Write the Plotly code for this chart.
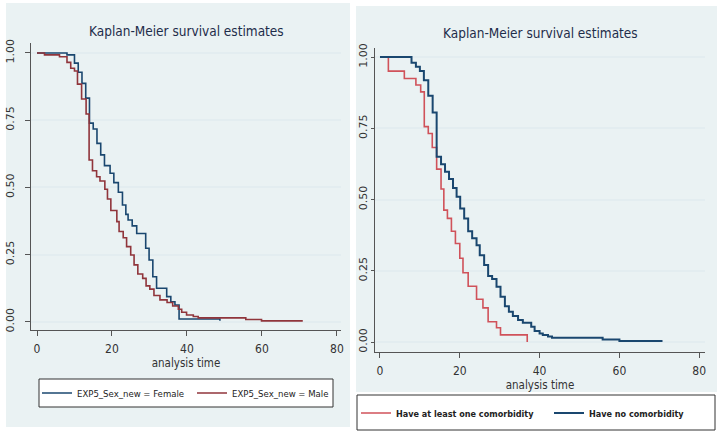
import plotly.graph_objects as go

# ---------------- data ----------------
# Left panel: by sex
female_t = [0, 8, 10, 11, 12, 13, 14, 15, 16, 17, 18, 19.5, 20.5, 21.7, 22.8, 23.7, 24.3, 25.4, 26.6,
            29.0, 29.9, 30.9, 31.9, 34.6, 35.7, 36.8, 37.9, 48.8]
female_s = [1.0, 0.993, 0.962, 0.928, 0.887, 0.832, 0.739, 0.717, 0.664, 0.621, 0.581, 0.553, 0.518,
            0.482, 0.435, 0.400, 0.379, 0.357, 0.329, 0.274, 0.230, 0.168, 0.125, 0.094, 0.075, 0.063,
            0.011, 0.004]
male_t = [0, 2, 6, 8, 9, 10, 10.8, 11.9, 13.1, 13.9, 14.8, 15.9, 16.8, 18.1, 18.8, 19.7, 21.3, 21.9,
          23.0, 23.9, 25.0, 25.9, 26.9, 28.2, 29.1, 30.1, 31.2, 32.8, 34.7, 36.2, 37.7, 38.6, 39.9,
          41.7, 43.0, 55.7, 59.9, 70.9]
male_s = [1.0, 0.993, 0.986, 0.965, 0.943, 0.933, 0.884, 0.829, 0.773, 0.602, 0.562, 0.540, 0.524,
          0.493, 0.457, 0.414, 0.373, 0.336, 0.313, 0.280, 0.249, 0.212, 0.178, 0.162, 0.134, 0.122,
          0.098, 0.082, 0.072, 0.059, 0.047, 0.036, 0.026, 0.020, 0.015, 0.009, 0.004, 0.004]

# Right panel: by comorbidity
comorb_t = [0, 2.1, 6.1, 9, 10.2, 11.1, 12.1, 13.1, 14.2, 15.3, 16.0, 16.9, 17.9, 18.9, 20.0, 20.8,
            22.1, 24.2, 25.8, 27.1, 29.2, 30.2, 36.9]
comorb_s = [1.0, 0.951, 0.925, 0.902, 0.878, 0.756, 0.732, 0.683, 0.607, 0.537, 0.463, 0.434, 0.389,
            0.346, 0.294, 0.243, 0.196, 0.150, 0.120, 0.071, 0.050, 0.025, 0.0]
nocomorb_t = [0, 7.9, 9, 10, 11, 12.1, 13.2, 14.2, 15.3, 16.3, 17.3, 18.3, 19.2, 20.1, 21.1, 22.1,
              23.1, 24.2, 25.0, 26.1, 27.1, 28.1, 29.2, 30.2, 31.3, 32.3, 33.3, 34.6, 35.8, 37.9,
              38.75, 40.0, 40.8, 42.1, 43.1, 55.8, 60.0, 70.8]
nocomorb_s = [1.0, 0.980, 0.966, 0.951, 0.919, 0.864, 0.806, 0.650, 0.624, 0.598, 0.572, 0.541, 0.510,
              0.469, 0.434, 0.389, 0.364, 0.340, 0.305, 0.270, 0.232, 0.221, 0.194, 0.159, 0.126,
              0.106, 0.091, 0.077, 0.068, 0.054, 0.039, 0.030, 0.025, 0.019, 0.015, 0.009, 0.004, 0.004]

x_ticks = [0, 20, 40, 60, 80]
y_ticks = [0, 0.25, 0.5, 0.75, 1.0]
y_ticklabels = ["0.00", "0.25", "0.50", "0.75", "1.00"]
title_text = "Kaplan-Meier survival estimates"
xaxis_title = "analysis time"

# ---------------- styling ----------------
W, H = 717, 435
NAVY = "#1a476f"
MAROON = "#90353b"
PINKRED = "#d0525a"
PANEL_BG = "#eaf2f3"
GRID = "#e3edf0"
AXIS = "#555555"
NARROW = "DejaVu Sans Condensed, Liberation Sans Narrow, Liberation Sans, sans-serif"
TICKFONT_Y = dict(family="DejaVu Sans, sans-serif", size=11, color="#333333")
TICKFONT_X = dict(family=NARROW, size=12, color="#333333")


def px(x):
    return x / W


def py(y):
    return 1 - y / H


fig = go.Figure()

fig.add_trace(go.Scatter(x=female_t, y=female_s, mode="lines", line=dict(color=NAVY, width=1.6, shape="hv"),
                         name="EXP5_Sex_new = Female", xaxis="x", yaxis="y", legend="legend"))
fig.add_trace(go.Scatter(x=male_t, y=male_s, mode="lines", line=dict(color=MAROON, width=1.6, shape="hv"),
                         name="EXP5_Sex_new = Male", xaxis="x", yaxis="y", legend="legend"))
fig.add_trace(go.Scatter(x=comorb_t, y=comorb_s, mode="lines", line=dict(color=PINKRED, width=1.6, shape="hv"),
                         name="<b>Have at least one comorbidity</b>", xaxis="x2", yaxis="y2", legend="legend2"))
fig.add_trace(go.Scatter(x=nocomorb_t, y=nocomorb_s, mode="lines", line=dict(color=NAVY, width=2, shape="hv"),
                         name="<b>Have no comorbidity</b>", xaxis="x2", yaxis="y2", legend="legend2"))

common_x = dict(tickvals=x_ticks, ticks="outside", ticklen=5, tickcolor=AXIS, showline=True, linecolor=AXIS,
                linewidth=1, showgrid=False, zeroline=False, tickfont=TICKFONT_X, automargin=False,
                ticklabelstandoff=3,
                title=dict(text=xaxis_title, font=dict(family=NARROW, size=11.5, color="#333333"), standoff=2))
common_y = dict(tickvals=y_ticks, ticktext=y_ticklabels, ticks="outside", tickcolor=AXIS,
                showline=True, linecolor=AXIS, linewidth=1, showgrid=True, gridcolor=GRID, gridwidth=1.5,
                zeroline=False, tickangle=-90, tickfont=TICKFONT_Y, automargin=False)

fig.update_layout(
    width=W, height=H,
    margin=dict(l=0, r=0, t=0, b=0, autoexpand=False),
    paper_bgcolor="white", plot_bgcolor="white",
    xaxis=dict(domain=[px(31), px(341)], range=[-1.6, 81.1], anchor="y", **common_x),
    yaxis=dict(domain=[py(330), py(43)], range=[-0.030, 1.037], anchor="x", ticklabelstandoff=7,
               ticklen=5, **common_y),
    xaxis2=dict(domain=[px(375), px(705)], range=[-1.25, 81.45], anchor="y2", **common_x),
    yaxis2=dict(domain=[py(352), py(48)], range=[-0.035, 1.032], anchor="x2", ticklabelstandoff=0,
                ticklen=3, **common_y),
    legend=dict(x=px(37), y=py(393), xanchor="left", yanchor="middle", orientation="h",
                bgcolor="rgba(0,0,0,0)", borderwidth=0,
                font=dict(family=NARROW, size=9.5, color="#222222"), entrywidth=110,
                itemwidth=30, tracegroupgap=0),
    legend2=dict(x=px(356), y=py(413), xanchor="left", yanchor="middle", orientation="h",
                 bgcolor="rgba(0,0,0,0)", borderwidth=0,
                 font=dict(family=NARROW, size=9, color="#222222"), entrywidth=148,
                 itemwidth=30, tracegroupgap=0),
    shapes=[
        dict(type="rect", xref="paper", yref="paper", x0=px(6), x1=px(350), y0=py(427), y1=py(3),
             fillcolor=PANEL_BG, line=dict(width=0), layer="below"),
        dict(type="rect", xref="paper", yref="paper", x0=px(356), x1=px(717), y0=py(392), y1=py(6),
             fillcolor=PANEL_BG, line=dict(width=0), layer="below"),
        dict(type="rect", xref="paper", yref="paper", x0=px(39), x1=px(333), y0=py(407), y1=py(379),
             fillcolor="white", line=dict(color="#333333", width=1), layer="below"),
        dict(type="rect", xref="paper", yref="paper", x0=px(357), x1=px(715), y0=py(430), y1=py(395),
             fillcolor="white", line=dict(color="#333333", width=1), layer="below"),
    ],
    annotations=[
        dict(text=title_text, xref="paper", yref="paper", x=px(186), y=py(31), xanchor="center",
             yanchor="middle", showarrow=False, font=dict(family=NARROW, size=13.5, color="#1e2d4a")),
        dict(text=title_text, xref="paper", yref="paper", x=px(540), y=py(33), xanchor="center",
             yanchor="middle", showarrow=False, font=dict(family=NARROW, size=13.5, color="#1e2d4a")),
    ],
)

fig.write_html("out.html", config={"displayModeBar": False},
               post_script="document.body.style.margin='0';document.body.style.padding='0';")
